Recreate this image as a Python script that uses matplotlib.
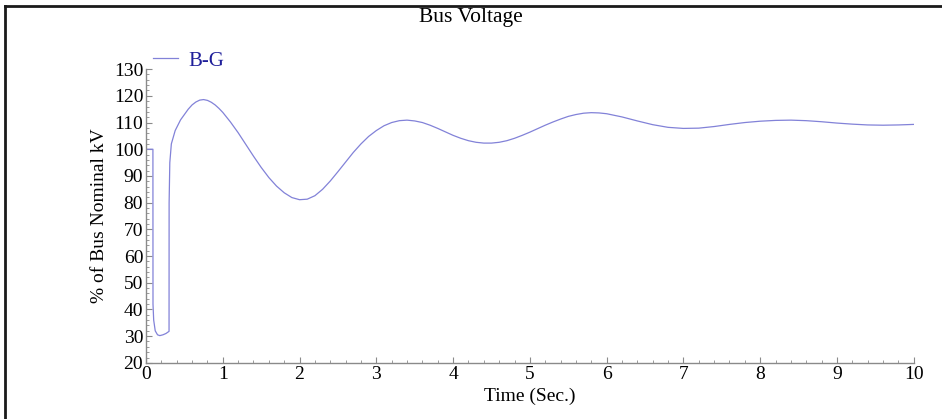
import matplotlib.pyplot as plt
from matplotlib.lines import Line2D
from matplotlib.ticker import MultipleLocator

# Bus voltage (B-G)
time_s = [0.0, 0.09, 0.091, 0.1, 0.12, 0.15, 0.18, 0.22, 0.26, 0.3, 0.301,
          0.31, 0.33, 0.38, 0.45, 0.5, 0.55, 0.6, 0.65, 0.7, 0.75, 0.8, 0.85,
          0.9, 0.95, 1.0, 1.1, 1.2, 1.3, 1.4, 1.5, 1.6, 1.7, 1.8, 1.9, 2.0,
          2.1, 2.2, 2.3, 2.4, 2.5, 2.6, 2.7, 2.8, 2.9, 3.0, 3.1, 3.2, 3.3,
          3.4, 3.5, 3.6, 3.7, 3.8, 3.9, 4.0, 4.1, 4.2, 4.3, 4.4, 4.5, 4.6,
          4.7, 4.8, 4.9, 5.0, 5.1, 5.2, 5.3, 5.4, 5.5, 5.6, 5.7, 5.8, 5.9,
          6.0, 6.2, 6.4, 6.6, 6.8, 7.0, 7.2, 7.4, 7.6, 7.8, 8.0, 8.2, 8.4,
          8.6, 8.8, 9.0, 9.2, 9.4, 9.6, 9.8, 10.0]
voltage_pct = [100, 100, 42, 36, 32, 30.5, 30.2, 30.5, 31, 31.8, 80,
               95, 102, 107, 111, 113, 115, 116.6, 117.7, 118.4, 118.6, 118.3, 117.6,
               116.6, 115.3, 113.8, 110.2, 106.2, 101.8, 97.4, 93.2, 89.4, 86.2, 83.7, 81.9, 81.1,
               81.3, 82.6, 85, 88.1, 91.6, 95.2, 98.8, 102, 104.8, 107, 108.8, 110, 110.7,
               110.9, 110.6, 110, 109, 107.8, 106.5, 105.2, 104.1, 103.2, 102.6, 102.3, 102.3, 102.6,
               103.2, 104.1, 105.2, 106.4, 107.7, 109, 110.2, 111.3, 112.3, 113, 113.5, 113.7, 113.6,
               113.3, 112.1, 110.6, 109.2, 108.2, 107.8, 107.9, 108.5, 109.3, 110, 110.5, 110.8, 110.9,
               110.7, 110.3, 109.8, 109.4, 109.1, 109.0, 109.1, 109.3]

plt.rcParams['font.family'] = ['Liberation Serif', 'DejaVu Serif']

fig = plt.figure(figsize=(9.42, 4.19), dpi=100)
ax = fig.add_axes([0.155, 0.134, 0.815, 0.701])

line, = ax.plot(time_s, voltage_pct, color='#8282d8', lw=0.9, label='B-G')

ax.set_xlim(0, 10)
ax.set_ylim(20, 130)
ax.xaxis.set_major_locator(MultipleLocator(1))
ax.xaxis.set_minor_locator(MultipleLocator(0.2))
ax.yaxis.set_major_locator(MultipleLocator(10))
ax.yaxis.set_minor_locator(MultipleLocator(2))

for side in ['top', 'right']:
    ax.spines[side].set_visible(False)
for side in ['left', 'bottom']:
    ax.spines[side].set_color('#8a8a8a')
    ax.spines[side].set_linewidth(1.0)

ax.tick_params(which='major', direction='in', length=4, width=0.8,
               color='#8a8a8a', labelsize=14, pad=2)
ax.tick_params(which='minor', direction='in', length=2.5, width=0.6,
               color='#8a8a8a')

ax.set_xlabel('Time (Sec.)', fontsize=14, labelpad=4)
ax.set_ylabel('% of Bus Nominal kV', fontsize=14, labelpad=4)

fig.text(0.5, 0.982, 'Bus Voltage', ha='center', va='top', fontsize=15.5)

leg = ax.legend(handles=[line], loc='lower left', bbox_to_anchor=(0.009, 0.995),
                frameon=False, fontsize=15, handlelength=1.2, handletextpad=0.5,
                borderaxespad=0, borderpad=0)
for txt in leg.get_texts():
    txt.set_color('#1f1f9a')

# black frame on top and left of the picture
fig.add_artist(Line2D([5 / 942, 1], [1 - 6 / 419, 1 - 6 / 419], transform=fig.transFigure,
                      color='#1a1a1a', lw=2.0))
fig.add_artist(Line2D([5 / 942, 5 / 942], [0, 1 - 6 / 419], transform=fig.transFigure,
                      color='#1a1a1a', lw=2.0))

fig.savefig('out.png', dpi=100)
